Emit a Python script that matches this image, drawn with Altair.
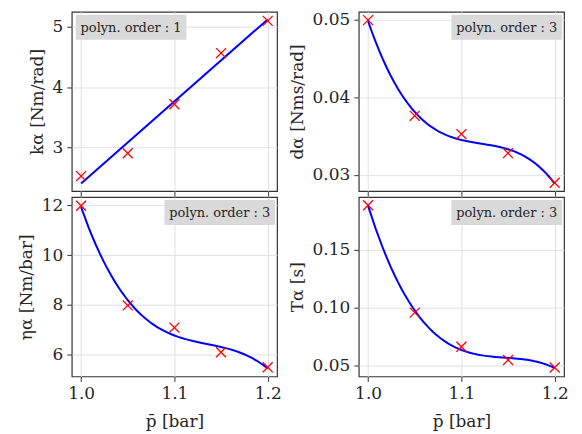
import altair as alt
import pandas as pd

# ---- data ----
p_bar = [1.0, 1.05, 1.1, 1.15, 1.2]
k_alpha = [2.52, 2.90, 3.715, 4.565, 5.10]
d_alpha = [0.0499, 0.0376, 0.03525, 0.0328, 0.0290]
eta_alpha = [11.98, 7.98, 7.09, 6.10, 5.50]
T_alpha = [0.1883, 0.0957, 0.0662, 0.0548, 0.0483]

x_ticks = [1.0, 1.1, 1.2]
k_ticks = [3, 4, 5]
d_ticks = [0.03, 0.04, 0.05]
eta_ticks = [6, 8, 10, 12]
T_ticks = [0.05, 0.10, 0.15]

FONT = "DejaVu Serif"
W, H = 206, 180


def panel(values, ytitle, yticks, yfmt, ydomain, order, box_left, show_x):
    df = pd.DataFrame({"p": p_bar, "v": values})
    base = alt.Chart(df)
    xaxis_kwargs = dict(values=x_ticks, format=".1f", labels=show_x, titlePadding=12)
    if show_x:
        xaxis_kwargs["title"] = "p\u0304 [bar]"
    else:
        xaxis_kwargs["title"] = None
    x = alt.X("p:Q", scale=alt.Scale(domain=[0.99, 1.21], nice=False, zero=False),
              axis=alt.Axis(**xaxis_kwargs))
    y = alt.Y("v:Q", scale=alt.Scale(domain=ydomain, nice=False, zero=False),
              axis=alt.Axis(values=yticks, format=yfmt, title=ytitle))

    if order == 1:
        fit = base.transform_regression("p", "v", method="linear", extent=[1.0, 1.2])
    else:
        fit = base.transform_regression("p", "v", method="poly", order=order, extent=[1.0, 1.2])
    line = fit.mark_line(color="#0000ff", strokeWidth=2).encode(x=x, y=y)

    pts = base.mark_point(shape="M-1,-1L1,1M-1,1L1,-1", filled=False, color="#ff0000",
                          size=100, strokeWidth=1.3, opacity=1).encode(x=x, y=y)

    label = pd.DataFrame({"t": ["polyn. order : %d" % order]})
    if box_left:
        bx0, bx1 = 4, 115
    else:
        bx0, bx1 = 93, 204
    box = alt.Chart(label).mark_rect(color="#d9d9d9").encode(
        x=alt.value(bx0), x2=alt.value(bx1), y=alt.value(3), y2=alt.value(28))
    txt = alt.Chart(label).mark_text(font=FONT, fontSize=13, color="#262626",
                                     align="center", baseline="middle").encode(
        x=alt.value((bx0 + bx1) / 2), y=alt.value(16), text="t:N")

    return alt.layer(line, pts, box, txt).properties(width=W, height=H)


p1 = panel(k_alpha, "kα [Nm/rad]", k_ticks, "d", [2.27, 5.252], 1, True, False)
p2 = panel(d_alpha, "dα [Nms/rad]", d_ticks, ".2f", [0.02792, 0.05098], 3, False, False)
p3 = panel(eta_alpha, "ηα [Nm/bar]", eta_ticks, "d", [5.128, 12.33], 3, False, True)
p4 = panel(T_alpha, "Tα [s]", T_ticks, ".2f", [0.0406, 0.1954], 3, False, True)

chart = alt.concat(p1, p2, p3, p4, columns=2, spacing={"row": 6, "column": 82},
                   bounds="flush").properties(
    padding={"left": 8, "top": 1, "right": 5, "bottom": 5}
).configure_view(
    stroke="#333333", strokeWidth=1.2
).configure_axis(
    domain=False, grid=True, gridColor="#e0e0e0", gridWidth=1,
    tickColor="#333333", tickSize=5, tickWidth=1,
    labelFont=FONT, labelFontSize=17, labelColor="#262626", labelPadding=4,
    titleFont=FONT, titleFontSize=17, titleFontWeight="normal", titleColor="#262626",
    titlePadding=6
)

chart.save("out.html", embed_options={"renderer": "svg", "actions": False})
